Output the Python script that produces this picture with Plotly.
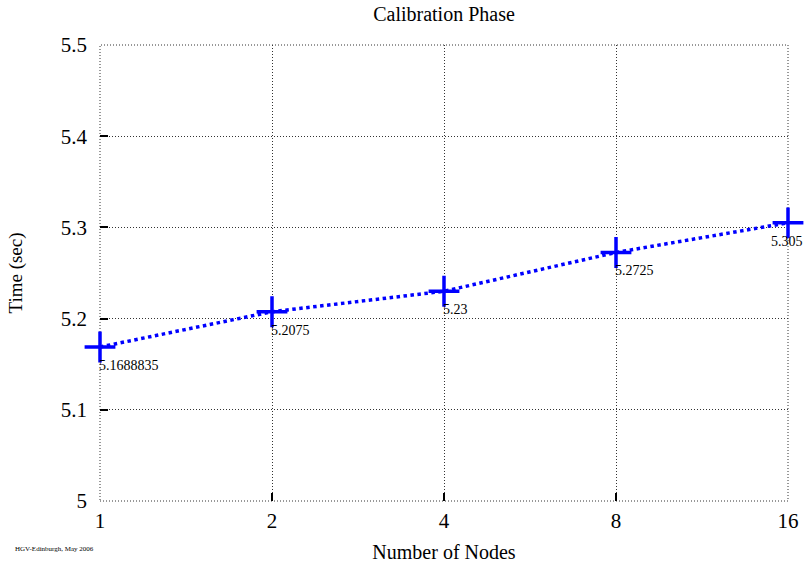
import plotly.graph_objects as go

nodes = ["1", "2", "4", "8", "16"]
times = [5.1688835, 5.2075, 5.23, 5.2725, 5.305]
labels = ["5.1688835", "5.2075", "5.23", "5.2725", "5.305"]
y_ticks = [5.0, 5.1, 5.2, 5.3, 5.4, 5.5]
y_ticktext = ["5", "5.1", "5.2", "5.3", "5.4", "5.5"]

SERIF = "'Liberation Serif', 'Times New Roman', Times, serif"
BLUE = "#0000ff"
DOTS = "1px,2px"

fig = go.Figure()
fig.add_trace(go.Scatter(
    x=nodes, y=times, mode="lines+markers",
    line=dict(color=BLUE, width=3.5, dash="dot"),
    marker=dict(symbol="cross-thin", size=22, color=BLUE,
                line=dict(color=BLUE, width=3.5)),
    cliponaxis=False, showlegend=False,
))

for i, (t, lab) in enumerate(zip(times, labels)):
    last = i == len(times) - 1
    fig.add_annotation(
        x=i, y=t, text=lab, showarrow=False,
        xanchor="left", yanchor="top",
        xshift=-19 if last else -3, yshift=-9,
        font=dict(family=SERIF, size=14, color="#000"),
    )

fig.add_annotation(
    xref="paper", yref="paper", x=-87 / 688, y=-48 / 456,
    xanchor="left", yanchor="middle",
    text="HGV-Edinburgh, May 2006", showarrow=False,
    font=dict(family=SERIF, size=7, color="#000"),
)

# dotted frame (gnuplot draws grid lines on the plot edges too)
fig.add_shape(type="rect", xref="paper", yref="paper", x0=0, y0=0, x1=1, y1=1,
              line=dict(color="#333", width=1, dash=DOTS), layer="below")

grid = dict(showgrid=True, gridcolor="#333", gridwidth=1, griddash=DOTS,
            zeroline=False, showline=False, automargin=False,
            ticks="inside", ticklen=8, tickwidth=1.5, tickcolor="#000",
            tickfont=dict(family=SERIF, size=21, color="#000"))

fig.update_layout(
    width=804, height=567,
    margin=dict(l=100, r=16, t=45, b=66),
    paper_bgcolor="white", plot_bgcolor="white",
    title=dict(text="Calibration Phase", x=(100 + 344) / 804, xanchor="center",
               y=1 - 14 / 567, yanchor="middle",
               font=dict(family=SERIF, size=20, color="#000")),
    xaxis=dict(type="category", range=[0, 4], ticklabelstandoff=5,
               title=dict(text="Number of Nodes", standoff=12,
                          font=dict(family=SERIF, size=20, color="#000")),
               **grid),
    yaxis=dict(range=[5.0, 5.5], tickvals=y_ticks, ticktext=y_ticktext,
               ticklabelstandoff=12,
               title=dict(text="Time (sec)", standoff=33,
                          font=dict(family=SERIF, size=19, color="#000")),
               **grid),
)

fig.write_html("out.html")
